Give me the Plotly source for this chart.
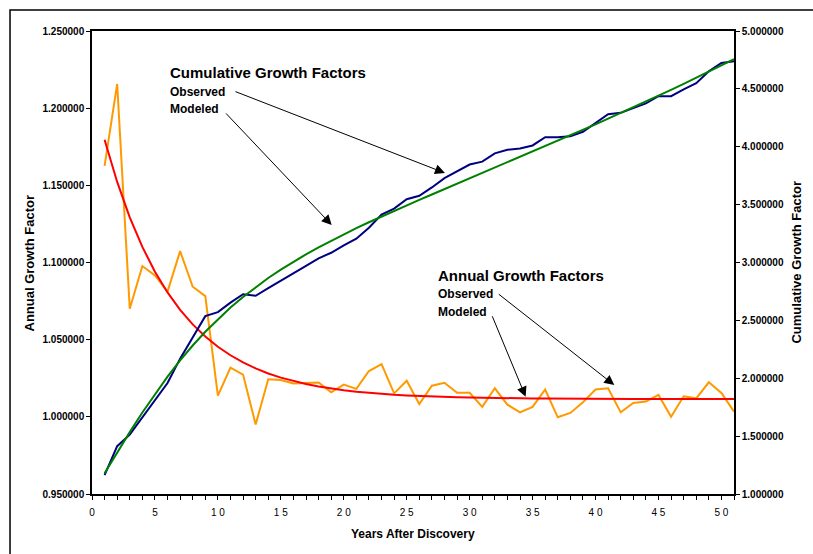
import plotly.graph_objects as go

# Years after discovery
years = list(range(1, 52))

# Annual growth factors (left axis)
annual_observed = [
    1.1626, 1.2157, 1.0700, 1.0977, 1.0916, 1.0811, 1.1074, 1.0843, 1.0782, 1.0138,
    1.0319, 1.0274, 0.9950, 1.0243, 1.0239, 1.0216, 1.0220, 1.0222, 1.0159, 1.0209,
    1.0181, 1.0297, 1.0342, 1.0152, 1.0234, 1.0083, 1.0202, 1.0221, 1.0156, 1.0156,
    1.0065, 1.0185, 1.0079, 1.0029, 1.0064, 1.0177, 0.9997, 1.0025, 1.0094, 1.0177,
    1.0185, 1.0029, 1.0090, 1.0099, 1.0142, 1.0000, 1.0133, 1.0120, 1.0224, 1.0155,
    1.0034,
]
annual_modeled = [
    1.1795, 1.1522, 1.1293, 1.1101, 1.0940, 1.0806, 1.0693, 1.0599, 1.0520, 1.0454,
    1.0399, 1.0353, 1.0314, 1.0281, 1.0254, 1.0232, 1.0213, 1.0197, 1.0183, 1.0172,
    1.0163, 1.0155, 1.0149, 1.0143, 1.0139, 1.0135, 1.0132, 1.0129, 1.0127, 1.0125,
    1.0123, 1.0122, 1.0121, 1.0120, 1.0119, 1.0118, 1.0117, 1.0117, 1.0116, 1.0116,
    1.0116, 1.0115, 1.0115, 1.0115, 1.0115, 1.0115, 1.0115, 1.0115, 1.0115, 1.0115,
    1.0115,
]

# Cumulative growth factors (right axis)
cumulative_observed = [
    1.1626, 1.4134, 1.5123, 1.6600, 1.8121, 1.9591, 2.1695, 2.3524, 2.5364, 2.5713,
    2.6533, 2.7260, 2.7124, 2.7783, 2.8447, 2.9061, 2.9700, 3.0360, 3.0843, 3.1487,
    3.2057, 3.3009, 3.4139, 3.4658, 3.5469, 3.5763, 3.6485, 3.7291, 3.7873, 3.8464,
    3.8714, 3.9430, 3.9742, 3.9857, 4.0112, 4.0822, 4.0810, 4.0912, 4.1296, 4.2027,
    4.2804, 4.2928, 4.3314, 4.3743, 4.4364, 4.4364, 4.4954, 4.5493, 4.6512, 4.7233,
    4.7394,
]
cumulative_modeled = [
    1.1795, 1.3590, 1.5347, 1.7037, 1.8639, 2.0141, 2.1537, 2.2827, 2.4014, 2.5104,
    2.6106, 2.7027, 2.7876, 2.8659, 2.9387, 3.0069, 3.0709, 3.1314, 3.1887, 3.2436,
    3.2964, 3.3475, 3.3974, 3.4460, 3.4939, 3.5411, 3.5878, 3.6341, 3.6803, 3.7263,
    3.7721, 3.8181, 3.8643, 3.9107, 3.9572, 4.0039, 4.0508, 4.0982, 4.1457, 4.1938,
    4.2424, 4.2912, 4.3406, 4.3905, 4.4410, 4.4921, 4.5437, 4.5960, 4.6488, 4.7023,
    4.7564,
]

# Axis ticks
x_tick_values = list(range(0, 52))
x_tick_labels = [" ".join(str(v)) if v % 5 == 0 else "" for v in x_tick_values]

FONT = "Liberation Sans, Arial, sans-serif"
ORANGE = "#FF9900"
RED = "#FF0000"
NAVY = "#000080"
GREEN = "#008000"

fig = go.Figure()

fig.add_trace(go.Scatter(x=years, y=annual_observed, mode="lines", name="Annual Observed",
                         line=dict(color=ORANGE, width=2), yaxis="y"))
fig.add_trace(go.Scatter(x=years, y=annual_modeled, mode="lines", name="Annual Modeled",
                         line=dict(color=RED, width=2), yaxis="y"))
fig.add_trace(go.Scatter(x=years, y=cumulative_observed, mode="lines", name="Cumulative Observed",
                         line=dict(color=NAVY, width=2), yaxis="y2"))
fig.add_trace(go.Scatter(x=years, y=cumulative_modeled, mode="lines", name="Cumulative Modeled",
                         line=dict(color=GREEN, width=2), yaxis="y2"))

tick_font = dict(family=FONT, size=10, color="black")
bold_tick_font = dict(family=FONT, size=10, color="black", weight="bold")

fig.update_layout(
    width=813,
    height=554,
    margin=dict(l=92, r=79, t=31, b=60),
    paper_bgcolor="white",
    plot_bgcolor="white",
    showlegend=False,
    xaxis=dict(
        range=[0, 51],
        tickmode="array",
        tickvals=x_tick_values,
        ticktext=x_tick_labels,
        ticks="outside",
        ticklen=4,
        tickwidth=1,
        tickcolor="black",
        showline=True,
        linecolor="black",
        linewidth=1.5,
        mirror=True,
        showgrid=False,
        zeroline=False,
        tickfont=tick_font,
        ticklabelstandoff=4,
    ),
    xaxis2=dict(
        range=[0, 51],
        overlaying="x",
        anchor="y",
        side="bottom",
        tickmode="array",
        tickvals=x_tick_values,
        ticks="inside",
        ticklen=4,
        tickwidth=1,
        tickcolor="black",
        showticklabels=False,
        showgrid=False,
        zeroline=False,
        showline=False,
    ),
    yaxis=dict(
        range=[0.95, 1.25],
        dtick=0.05,
        tick0=0.95,
        tickformat=".6f",
        ticks="outside",
        ticklen=4,
        tickcolor="black",
        showline=True,
        linecolor="black",
        linewidth=1.5,
        showgrid=False,
        zeroline=False,
        tickfont=bold_tick_font,
    ),
    yaxis2=dict(
        range=[1.0, 5.0],
        dtick=0.5,
        tick0=1.0,
        tickformat=".6f",
        overlaying="y",
        side="right",
        ticks="outside",
        ticklen=4,
        tickcolor="black",
        showline=True,
        linecolor="black",
        linewidth=1.5,
        showgrid=False,
        zeroline=False,
        tickfont=bold_tick_font,
    ),
)

# Outer chart frame
fig.add_shape(type="rect", xref="paper", yref="paper",
              x0=-0.1277, x1=1.3, y0=-0.3, y1=1.0454,
              line=dict(color="black", width=1.5), fillcolor="rgba(0,0,0,0)", layer="below")

# Axis titles
title_font = dict(family=FONT, size=12, color="black")
vtitle_font = dict(family=FONT, size=13, color="black")
fig.add_annotation(text="<b>Annual Growth Factor</b>", xref="paper", yref="paper",
                   x=-0.0966, y=0.5, textangle=-90, showarrow=False,
                   xanchor="center", yanchor="middle", font=vtitle_font)
fig.add_annotation(text="<b>Cumulative Growth Factor</b>", xref="paper", yref="paper",
                   x=1.0966, y=0.5, textangle=-90, showarrow=False,
                   xanchor="center", yanchor="middle", font=vtitle_font)
fig.add_annotation(text="<b>Years After Discovery</b>", xref="paper", yref="paper",
                   x=0.5, y=-0.0864, showarrow=False,
                   xanchor="center", yanchor="middle", font=title_font)

# Series callouts
head_font = dict(family=FONT, size=15, color="black")
sub_font = dict(family=FONT, size=12, color="black")
labels = [
    ("Cumulative Growth Factors", 0.1184, 0.9093, head_font),
    ("Observed", 0.1184, 0.8683, sub_font),
    ("Modeled", 0.1184, 0.8305, sub_font),
    ("Annual Growth Factors", 0.5358, 0.4730, head_font),
    ("Observed", 0.5358, 0.4320, sub_font),
    ("Modeled", 0.5358, 0.3924, sub_font),
]
for text, lx, ly, f in labels:
    fig.add_annotation(text=f"<b>{text}</b>", xref="paper", yref="paper", x=lx, y=ly,
                       showarrow=False, xanchor="left", yanchor="middle", font=f)

# Pointer arrows to the series
arrow_style = dict(text="", showarrow=True, arrowhead=2, arrowsize=2, arrowwidth=1,
                   arrowcolor="black", axref="pixel", ayref="pixel", standoff=0)
fig.add_annotation(x=28.04, y=3.773, xref="x", yref="y2", ax=-211, ay=-82, **arrow_style)
fig.add_annotation(x=19.04, y=3.324, xref="x", yref="y2", ax=-107, ay=-113, **arrow_style)
fig.add_annotation(x=41.49, y=1.0206, xref="x", yref="y", ax=-117, ay=-92, **arrow_style)
fig.add_annotation(x=34.45, y=1.0130, xref="x", yref="y", ax=-34, ay=-82, **arrow_style)

fig.write_html("out.html")
